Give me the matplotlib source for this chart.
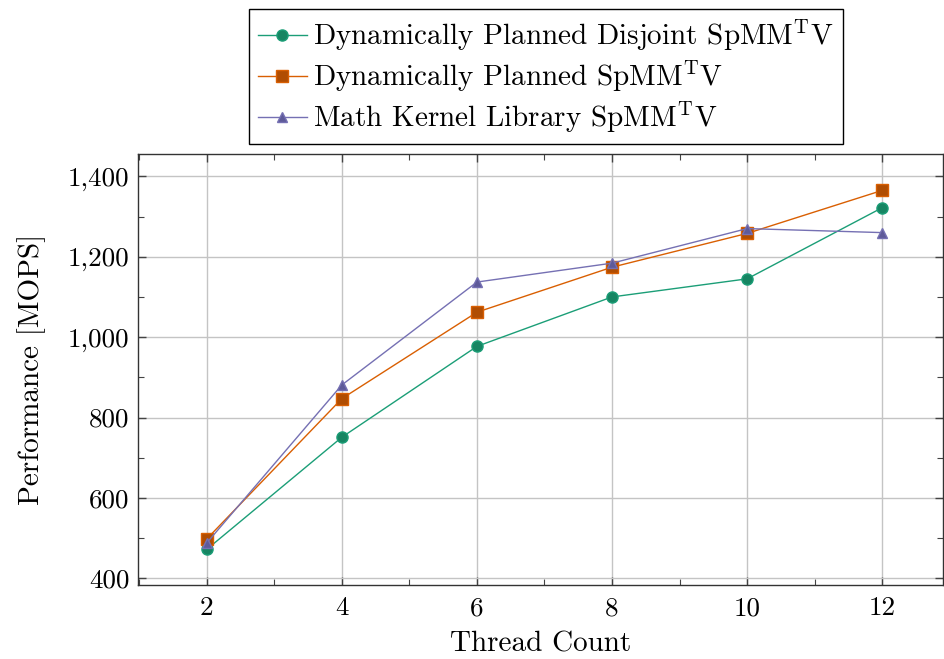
import matplotlib
matplotlib.use('Agg')
import matplotlib.pyplot as plt
from matplotlib.ticker import FuncFormatter, MultipleLocator

# --------------------------------------------------
threads = [2, 4, 6, 8, 10, 12]
disjoint = [472, 751, 977, 1100, 1145, 1322]
planned = [498, 847, 1062, 1174, 1258, 1365]
mkl = [488, 881, 1137, 1184, 1270, 1260]

labels = [r'Dynamically Planned Disjoint SpMM$^{\mathrm{T}}$V',
          r'Dynamically Planned SpMM$^{\mathrm{T}}$V',
          r'Math Kernel Library SpMM$^{\mathrm{T}}$V']

plt.rcParams['font.family'] = 'serif'
plt.rcParams['font.serif'] = ['cmr10', 'DejaVu Serif']
plt.rcParams['mathtext.fontset'] = 'cm'
plt.rcParams['axes.unicode_minus'] = False

fig = plt.figure(figsize=(9.44, 6.59), dpi=100)
ax = fig.add_axes([0.146, 0.112, 0.853, 0.654])

ax.plot(threads, disjoint, color='#1b9e77', lw=1, marker='o', ms=8,
        mfc='#168562', mec='#1b9e77', label=labels[0], zorder=3)
ax.plot(threads, planned, color='#d95f02', lw=1, marker='s', ms=8,
        mfc='#b04d02', mec='#d95f02', label=labels[1], zorder=3)
ax.plot(threads, mkl, color='#7570b3', lw=1, marker='^', ms=7,
        mfc='#5e5a99', mec='#7570b3', label=labels[2], zorder=3)

ax.set_xlim(0.98, 12.9)
ax.set_ylim(383, 1455)
ax.xaxis.set_major_locator(MultipleLocator(2))
ax.xaxis.set_minor_locator(MultipleLocator(1))
ax.yaxis.set_major_locator(MultipleLocator(200))
ax.yaxis.set_minor_locator(MultipleLocator(100))
ax.yaxis.set_major_formatter(FuncFormatter(lambda v, p: '{:,.0f}'.format(v)))

ax.tick_params(which='both', direction='in', top=True, right=True,
               labelsize=19.5, color='#444444')
ax.tick_params(axis='x', pad=8)
ax.tick_params(axis='y', pad=6)
ax.tick_params(which='major', length=6, width=1)
ax.tick_params(which='minor', length=4, width=0.8)
ax.grid(True, which='major', color='#c4c4c4', lw=1)
ax.set_axisbelow(True)
for sp in ax.spines.values():
    sp.set_linewidth(1)
    sp.set_color('#333333')

ax.set_xlabel('Thread Count', fontsize=21, labelpad=8)
ax.set_ylabel('Performance [MOPS]', fontsize=21, labelpad=16)

fig.legend(loc='upper center', bbox_to_anchor=(0.578, 0.986), fontsize=21,
           fancybox=False, edgecolor='black', framealpha=1,
           handlelength=1.7, borderpad=0.3, labelspacing=0.2,
           handletextpad=0.2, borderaxespad=0)

plt.savefig('out.png', dpi=100)
